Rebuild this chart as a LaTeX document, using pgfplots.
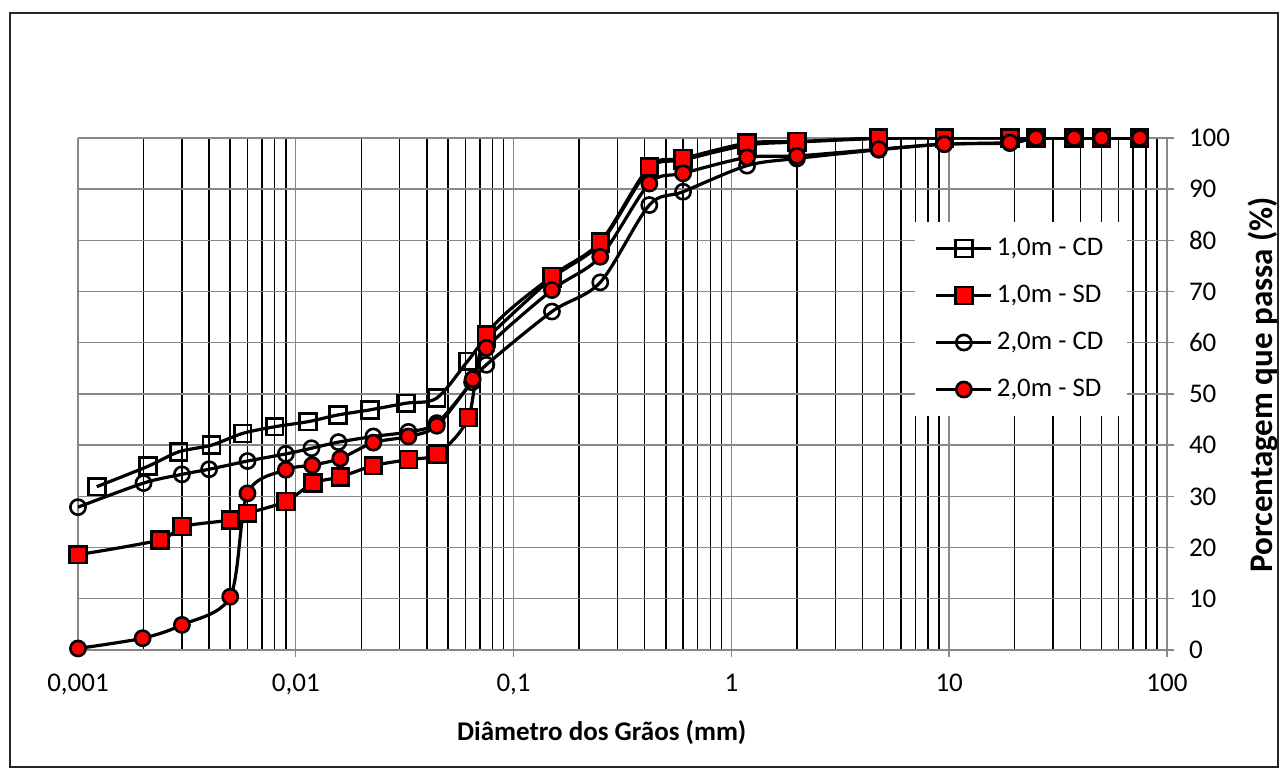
\documentclass[border=0pt]{standalone}
\usepackage{fontspec}
\setmainfont{Carlito}
\usepackage{pgfplots}
\pgfplotsset{compat=1.18}

\definecolor{gridgray}{HTML}{888888}
\definecolor{sdred}{HTML}{FF0000}

\pgfplotsset{
  sieve/.style={line width=1.6pt, black, smooth, tension=0.5},
}

\begin{document}
\begin{tikzpicture}
\begin{axis}[
  at={(0pt,0pt)}, anchor=south west,
  scale only axis, width=544.5pt, height=256pt,
  xmode=log, log basis x=10,
  xmin=0.001, xmax=100, ymin=0, ymax=100,
  xtick={0.001,0.01,0.1,1,10,100},
  xticklabels={{0,001},{0,01},{0,1},1,10,100},
  minor xtick={0.002,0.003,0.004,0.005,0.006,0.007,0.008,0.009,
               0.02,0.03,0.04,0.05,0.06,0.07,0.08,0.09,
               0.2,0.3,0.4,0.5,0.6,0.7,0.8,0.9,
               2,3,4,5,6,7,8,9,
               20,30,40,50,60,70,80,90},
  ytick={0,10,...,100},
  axis y line*=right, axis x line*=bottom,
  axis line style={gridgray, line width=0.7pt},
  tick align=outside, major tick length=3.5pt, minor tick length=0pt,
  tick style={gridgray, line width=0.7pt},
  xmajorgrids, xminorgrids, ymajorgrids,
  major grid style={gridgray, line width=0.7pt},
  minor grid style={black, line width=0.75pt},
  /pgf/number format/assume math mode=true,
  tick label style={font=\fontsize{13.5}{16}\selectfont},
  xticklabel style={yshift=-5pt},
  yticklabel style={xshift=4pt},
  xlabel={Diâmetro dos Grãos (mm)},
  xlabel style={font=\fontsize{13.5}{16}\selectfont\bfseries,
    at={(axis description cs:0.481,0)}, anchor=base, yshift=-45.5pt},
  ylabel={Porcentagem que passa (\%)},
  ylabel style={font=\fontsize{16.5}{20}\selectfont\bfseries,
    at={(axis description cs:1.088,0.518)}, anchor=center, rotate=0},
  legend cell align=left,
  legend style={at={(rel axis cs:0.768,0.836)}, anchor=north west,
    draw=none, fill=white, font=\fontsize{13.4}{16}\selectfont,
    row sep=9.3pt, inner xsep=10pt, inner ysep=6pt},
  legend image code/.code={%
    \draw[mark repeat=2, mark phase=2]
      plot coordinates {(0pt,0pt) (13.75pt,0pt) (27.5pt,0pt)};},
]
% 1,0 m, com defloculante
\addplot[sieve, mark=square, mark size=4.2pt,
  mark options={line width=1.3pt, solid}] coordinates {
 (0.00122,31.9) (0.0021,35.9) (0.0029,38.7) (0.0041,40.0) (0.0057,42.3)
 (0.0080,43.6) (0.0114,44.6) (0.0156,45.9) (0.0219,46.9) (0.0321,48.2)
 (0.0444,49.2) (0.0615,56.4) (0.075,60.8) (0.15,72.6) (0.25,79.4)
 (0.42,94.0) (0.6,95.7) (1.18,98.6) (2,99.2) (4.75,99.9) (9.5,100)
 (19,100) (25,100) (37.5,100) (50,100) (75,100)};
\addlegendentry{1,0m - CD}
% 1,0 m, sem defloculante
\addplot[sieve, mark=square*, mark size=4.2pt,
  mark options={line width=1.3pt, solid, fill=sdred}] coordinates {
 (0.001,18.6) (0.00238,21.5) (0.003,24.1) (0.005,25.4) (0.006,26.7)
 (0.009,29.0) (0.012,32.6) (0.016,33.8) (0.0227,36.0) (0.0329,37.2)
 (0.0447,38.3) (0.062,45.4) (0.075,61.5) (0.15,73.0) (0.25,79.7)
 (0.42,94.4) (0.6,96.0) (1.18,99.0) (2,99.3) (4.75,100) (9.5,100)
 (19,100) (25,100) (37.5,100) (50,100) (75,100)};
\addlegendentry{1,0m - SD}
% 2,0 m, com defloculante
\addplot[sieve, mark=o, mark size=3.8pt,
  mark options={line width=1.3pt, solid}] coordinates {
 (0.001,27.9) (0.002,32.6) (0.003,34.3) (0.004,35.3) (0.006,36.9)
 (0.009,38.3) (0.0118,39.4) (0.0157,40.6) (0.0227,41.7) (0.0329,42.6)
 (0.0444,44.3) (0.0645,52.3) (0.075,55.7) (0.15,66.1) (0.25,71.8)
 (0.42,86.9) (0.6,89.5) (1.18,94.6) (2,96.0) (4.75,97.7) (9.5,98.8)
 (19,99.0) (25,100) (37.5,100) (50,100) (75,100)};
\addlegendentry{2,0m  - CD}
% 2,0 m, sem defloculante
\addplot[sieve, mark=*, mark size=3.8pt,
  mark options={line width=1.3pt, solid, fill=sdred}] coordinates {
 (0.001,0.3) (0.00198,2.3) (0.003,4.9) (0.005,10.4) (0.006,30.6)
 (0.009,35.2) (0.0119,36.1) (0.016,37.4) (0.0227,40.5) (0.0329,41.7)
 (0.0444,43.8) (0.0649,52.9) (0.075,59.0) (0.15,70.3) (0.25,76.8)
 (0.42,91.1) (0.6,93.1) (1.18,96.2) (2,96.5) (4.75,97.8) (9.5,98.8)
 (19,99.1) (25,100) (37.5,100) (50,100) (75,100)};
\addlegendentry{2,0m - SD}
\end{axis}
\pgfresetboundingbox
\useasboundingbox (-39pt,-59.5pt) rectangle (601.5pt,325pt);
\draw[line width=1pt, black!85] (-34pt,-58.5pt) rectangle (600pt,318.5pt);
\end{tikzpicture}
\end{document}
